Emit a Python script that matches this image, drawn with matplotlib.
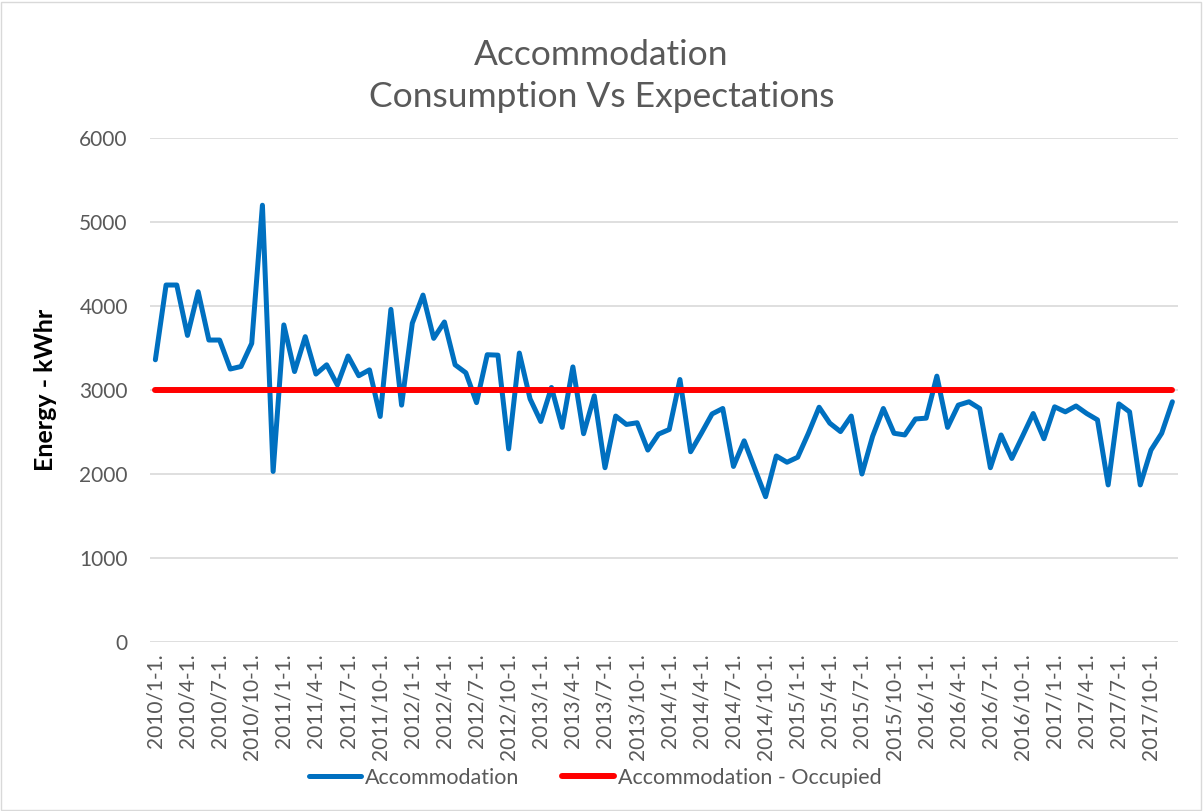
import matplotlib
matplotlib.use("Agg")
import matplotlib.pyplot as plt
from matplotlib.patches import Rectangle

# --- DATA ---
years = list(range(2010, 2018))
months = list(range(1, 13))
month_labels = [f"{y}/{m}-1." for y in years for m in months]

accommodation = [
    3360, 4250, 4250, 3650, 4170, 3595, 3595, 3250, 3280, 3555, 5200, 2030,  # 2010
    3775, 3220, 3635, 3190, 3300, 3060, 3405, 3170, 3240, 2685, 3960, 2820,  # 2011
    3795, 4130, 3615, 3810, 3300, 3205, 2850, 3420, 3415, 2300, 3440, 2895,  # 2012
    2625, 3030, 2555, 3275, 2480, 2930, 2075, 2690, 2590, 2610, 2285, 2475,  # 2013
    2530, 3125, 2265, 2485, 2715, 2780, 2090, 2395, 2060, 1730, 2215, 2140,  # 2014
    2200, 2485, 2795, 2605, 2505, 2690, 2000, 2450, 2780, 2485, 2465, 2655,  # 2015
    2665, 3165, 2555, 2820, 2860, 2780, 2075, 2465, 2185, 2450, 2720, 2420,  # 2016
    2800, 2740, 2810, 2720, 2645, 1870, 2835, 2740, 1870, 2285, 2485, 2860,  # 2017
]
occupied = [3000] * len(accommodation)

TEXT = "#595959"
GRID = "#D9D9D9"

plt.rcParams['font.family'] = ['Lato', 'DejaVu Sans']

fig = plt.figure(figsize=(12.03, 8.11), dpi=100)
ax = fig.add_axes([0.1247, 0.2084, 0.979 - 0.1247, 0.8298 - 0.2084])

x = list(range(len(accommodation)))
ax.plot(x, accommodation, color="#0070C0", lw=3.6, solid_joinstyle="round",
        solid_capstyle="round", label="Accommodation", zorder=3)
ax.plot(x, occupied, color="#FF0000", lw=4.3, solid_capstyle="round",
        label="Accommodation - Occupied", zorder=4)

ax.set_xlim(-0.5, len(x) - 0.5)
ax.set_ylim(0, 6000)
ax.set_yticks(range(0, 6001, 1000))
ax.set_xticks(x[::3])
ax.set_xticklabels(month_labels[::3], rotation=90)
ax.tick_params(axis="both", length=0, colors=TEXT, labelsize=15)
ax.tick_params(axis="y", pad=16)
ax.tick_params(axis="x", pad=8)
ax.grid(axis="y", color=GRID, lw=1.2)
ax.set_axisbelow(True)
for s in ax.spines.values():
    s.set_visible(False)

ax.set_ylabel("Energy - kWhr", fontsize=18, fontweight="bold", color="black", labelpad=16)

fig.suptitle("Accommodation\nConsumption Vs Expectations", y=0.952, fontsize=25.5,
             color=TEXT, linespacing=1.4)

fig.legend(loc="lower center", bbox_to_anchor=(0.495, 0.005), ncol=2, frameon=False,
           fontsize=15.5, handlelength=2.4, handletextpad=0.2, columnspacing=2.0,
           labelcolor=TEXT)

fig.patches.append(Rectangle((0.001, 0.001), 0.997, 0.997, transform=fig.transFigure,
                             fill=False, edgecolor=GRID, lw=1))

fig.savefig("out.png", dpi=100)
